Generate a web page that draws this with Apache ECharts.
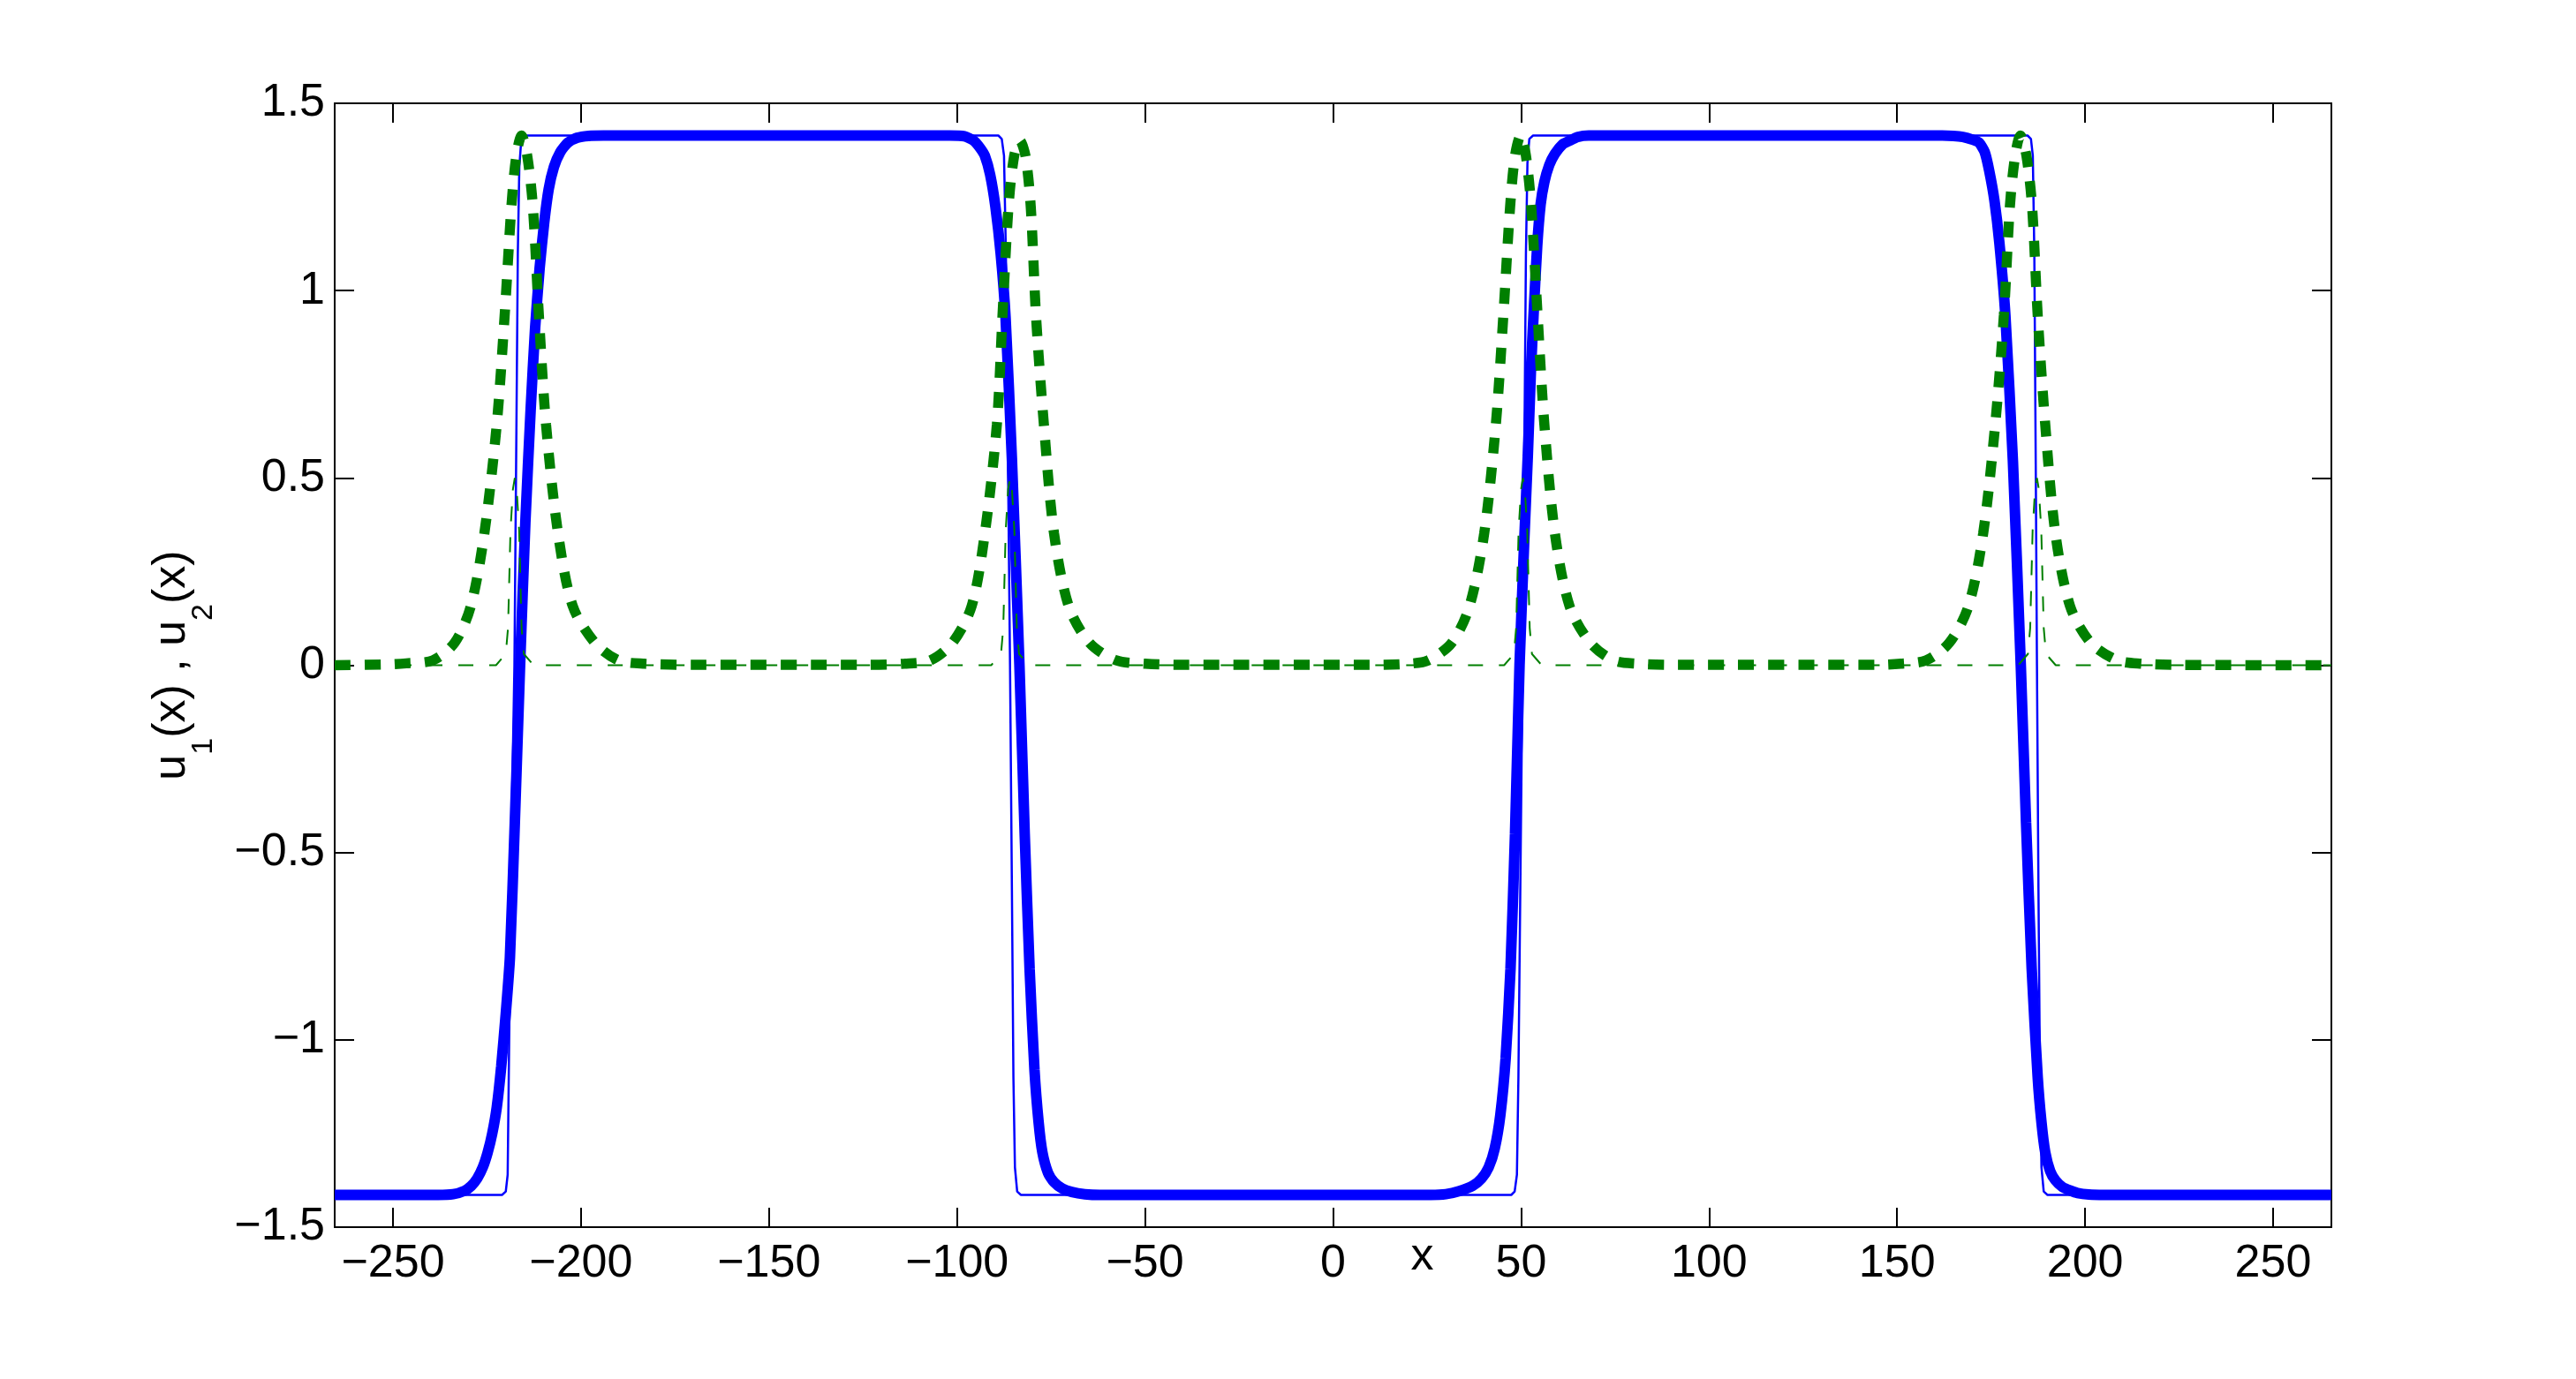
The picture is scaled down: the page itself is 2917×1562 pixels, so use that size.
<!DOCTYPE html>
<html>
<head>
<meta charset="utf-8">
<script src="https://cdn.jsdelivr.net/npm/echarts@6/dist/echarts.min.js"></script>
<style>
html,body{margin:0;padding:0;background:#fff;}
#chart{width:2917px;height:1562px;}
</style>
</head>
<body>
<div id="chart"></div>
<script>
// ---- data ----
const xTicks = [-250, -200, -150, -100, -50, 0, 50, 100, 150, 200, 250];
const yTicks = [-1.5, -1, -0.5, 0, 0.5, 1, 1.5];

// u1, thick blue curve
const thickBlueX = [-265.5, -238, -234, -231, -229.2, -227.6, -226.1, -224.8, -223.6, -222.4, -221.2, -220.0, -218.9, -217.6, -216.2, -214.8, -213.4, -212.2, -211.0, -209.8, -208.6, -207.2, -205.5, -203.5, -201, -198, -194,
  -102, -98, -95.5, -93.8, -92.6, -91.2, -89.8, -88.4, -87.1, -85.4, -83.4, -82.0, -80.7, -79.4, -78.3, -77.3, -75.8, -74.2, -72.0, -69.5, -66, -62,
  26, 30, 33.5, 37.1, 39.5, 41.4, 43.0, 44.5, 45.9, 47.2, 48.4, 49.6, 50.8, 51.8, 52.6, 53.3, 54.3, 55.2, 56.2, 57.5, 59.0, 61.0, 62.9, 65, 68,
  162, 165, 167.5, 170, 171.8, 173.3, 174.5, 175.9, 177.2, 178.8, 180.8, 182.9, 184.3, 185.8, 187.4, 188.4, 189.4, 190.7, 192.1, 194, 196.0, 198, 201, 205, 265.5];
const thickBlueY = [-1.414, -1.414, -1.412, -1.403, -1.39, -1.37, -1.34, -1.30, -1.25, -1.18, -1.07, -0.93, -0.78, -0.42, 0, 0.38, 0.68, 0.90, 1.06, 1.18, 1.27, 1.33, 1.37, 1.395, 1.408, 1.413, 1.414,
  1.414, 1.412, 1.40, 1.38, 1.36, 1.31, 1.225, 1.10, 0.93, 0.55, 0, -0.45, -0.81, -1.08, -1.22, -1.30, -1.355, -1.38, -1.397, -1.406, -1.412, -1.414,
  -1.414, -1.412, -1.404, -1.39, -1.37, -1.34, -1.29, -1.2, -1.05, -0.81, -0.45, 0, 0.32, 0.56, 0.78, 0.93, 1.12, 1.23, 1.29, 1.335, 1.365, 1.39, 1.40, 1.41, 1.414,
  1.414, 1.413, 1.41, 1.403, 1.395, 1.37, 1.32, 1.24, 1.128, 0.934, 0.546, 0, -0.42, -0.81, -1.10, -1.22, -1.30, -1.35, -1.375, -1.393, -1.402, -1.409, -1.413, -1.414, -1.414];

// u1, thin blue curve
const thinBlueX = [-265.5, -221, -220.0, -219.5, -219.1, -218.4, -217.7, -217.2, -216.8, -216.4, -215.9, -215,
  -89, -88.1, -87.5, -87.0, -86.4, -85.9, -85.4, -85.0, -84.6, -84.0, -83,
  47.4, 48.3, 48.9, 49.3, 49.9, 50.4, 50.9, 51.3, 51.7, 52.2, 53.2,
  184.7, 185.6, 186.1, 186.5, 186.9, 187.2, 187.6, 188.0, 188.4, 189.0, 190, 265.5];
const thinBlueY = [-1.414, -1.414, -1.405, -1.36, -1.0, -0.4, 0, 0.6, 1.1, 1.33, 1.40, 1.414,
  1.414, 1.405, 1.36, 1.1, 0.5, 0, -0.6, -1.1, -1.34, -1.405, -1.414,
  -1.414, -1.405, -1.36, -1.1, -0.5, 0, 0.6, 1.1, 1.34, 1.405, 1.414,
  1.414, 1.405, 1.36, 1.1, 0.5, 0, -0.6, -1.1, -1.34, -1.405, -1.414, -1.414];

// u2, thick green dotted curve
const thickGreenX = [-265.5, -252, -246.5, -239.4, -233.6, -229.3, -225.7, -222.4, -220.3, -218.5, -217.2, -215.8, -214.3, -212.8, -211.2, -209.3, -206.1, -202.2, -196.3, -190.0, -183, -170,
  -125, -114, -107.1, -101.2, -96.1, -92.6, -89.4, -87.9, -86.3, -84.8, -83.3, -81.8, -80.4, -79.0, -76.9, -74.2, -70.3, -64.8, -57.7, -50, -40,
  10, 20, 25.3, 31.6, 36.3, 40.2, 43.3, 45.3, 47.1, 48.4, 49.9, 51.3, 52.7, 54.4, 56.2, 59.0, 62.9, 68.4, 74.6, 81, 90,
  145, 151, 157.7, 163.9, 169.0, 172.9, 176.1, 178.4, 180.0, 181.4, 182.8, 184.4, 185.9, 187.4, 189.4, 192.1, 196.0, 201.5, 208.6, 215, 225, 265.5];
const thickGreenY = [0, 0.002, 0.005, 0.013, 0.06, 0.158, 0.352, 0.643, 0.934, 1.225, 1.36, 1.414, 1.36, 1.225, 0.934, 0.643, 0.352, 0.158, 0.06, 0.013, 0.004, 0.001,
  0.001, 0.004, 0.013, 0.06, 0.158, 0.352, 0.643, 0.934, 1.225, 1.36, 1.40, 1.36, 1.225, 0.934, 0.643, 0.352, 0.158, 0.06, 0.013, 0.004, 0.001,
  0.001, 0.004, 0.013, 0.06, 0.158, 0.352, 0.643, 0.934, 1.225, 1.36, 1.414, 1.36, 1.225, 0.934, 0.643, 0.352, 0.158, 0.06, 0.013, 0.004, 0.001,
  0.001, 0.004, 0.013, 0.06, 0.158, 0.352, 0.643, 0.934, 1.225, 1.36, 1.414, 1.36, 1.225, 0.934, 0.643, 0.352, 0.158, 0.06, 0.013, 0.004, 0.001, 0];

// u2, thin green dashed curve
const thinGreenX = [-265.5, -222.6, -220.0, -219.4, -218.75, -218.1, -217.6, -217.1, -216.45, -215.8, -215.2, -212.6,
  -90.9, -88.3, -87.7, -87.05, -86.4, -85.9, -85.4, -84.75, -84.1, -83.5, -80.9,
  45.5, 48.1, 48.7, 49.35, 50.0, 50.5, 51.0, 51.65, 52.3, 52.9, 55.5,
  182.2, 184.8, 185.4, 186.05, 186.7, 187.2, 187.7, 188.35, 189.0, 189.6, 192.2, 265.5];
const thinGreenY = [0, 0, 0.03, 0.1, 0.36, 0.47, 0.5, 0.47, 0.36, 0.1, 0.03, 0,
  0, 0.03, 0.1, 0.36, 0.47, 0.5, 0.47, 0.36, 0.1, 0.03, 0,
  0, 0.03, 0.1, 0.36, 0.47, 0.5, 0.47, 0.36, 0.1, 0.03, 0,
  0, 0.03, 0.1, 0.36, 0.47, 0.5, 0.47, 0.36, 0.1, 0.03, 0, 0];

const xLabelText = 'x';
const yLabelText = '{m|u}{s|1}{m|(x) , u}{s|2}{m|(x)}';

// ---- chart ----
function zip(xs, ys) { return xs.map((x, i) => [x, ys[i]]); }
const FONT = "'Liberation Sans', Arial, Helvetica, sans-serif";
const fmt = v => String(v).replace('-', '\u2212');
const BLUE = '#0000ff', GREEN = '#007f00';

const axisLineStyle = { show: true, onZero: false, lineStyle: { color: '#000', width: 2 } };
const tickStyle = { show: true, inside: true, length: 22, lineStyle: { color: '#000', width: 2 } };

const chart = echarts.init(document.getElementById('chart'), null, { renderer: 'canvas' });
chart.setOption({
  animation: false,
  backgroundColor: '#fff',
  grid: { left: 379, top: 117, width: 2261, height: 1273, containLabel: false },
  xAxis: [
    {
      type: 'value', position: 'bottom', min: -265.5, max: 265.5,
      axisLine: axisLineStyle,
      axisTick: Object.assign({}, tickStyle, { customValues: xTicks }),
      axisLabel: { customValues: xTicks, formatter: fmt, fontSize: 52, fontFamily: FONT, color: '#000', margin: 16 },
      splitLine: { show: false },
      name: xLabelText, nameLocation: 'middle', nameGap: 8, nameMoveOverlap: false,
      nameTextStyle: { fontSize: 52, fontFamily: FONT, color: '#000', padding: [0, 0, 0, 202] }
    },
    {
      type: 'value', position: 'top', min: -265.5, max: 265.5,
      axisLine: axisLineStyle,
      axisTick: Object.assign({}, tickStyle, { customValues: xTicks }),
      axisLabel: { show: false }, splitLine: { show: false }
    }
  ],
  yAxis: [
    {
      type: 'value', position: 'left', min: -1.5, max: 1.5, interval: 0.5,
      axisLine: axisLineStyle,
      axisTick: tickStyle,
      axisLabel: { formatter: fmt, fontSize: 52, fontFamily: FONT, color: '#000', margin: 11 },
      splitLine: { show: false },
      name: yLabelText, nameLocation: 'middle', nameRotate: 90, nameGap: 131, nameMoveOverlap: false,
      nameTextStyle: {
        fontFamily: FONT, color: '#000', fontSize: 52,
        rich: {
          m: { fontSize: 52, fontFamily: FONT, color: '#000', lineHeight: 52, verticalAlign: 'top' },
          s: { fontSize: 34, fontFamily: FONT, color: '#000', padding: [45, 0, 0, 0], verticalAlign: 'top' }
        }
      }
    },
    {
      type: 'value', position: 'right', min: -1.5, max: 1.5, interval: 0.5,
      axisLine: axisLineStyle,
      axisTick: tickStyle,
      axisLabel: { show: false }, splitLine: { show: false }
    }
  ],
  series: [
    { type: 'line', name: 'u1 thick', data: zip(thickBlueX, thickBlueY), showSymbol: false, symbol: 'none', smooth: 0.2,
      lineStyle: { color: BLUE, width: 12 } },
    { type: 'line', name: 'u1 thin', data: zip(thinBlueX, thinBlueY), showSymbol: false, symbol: 'none',
      lineStyle: { color: BLUE, width: 2.5 } },
    { type: 'line', name: 'u2 thick', data: zip(thickGreenX, thickGreenY), showSymbol: false, symbol: 'none', smooth: 0.3,
      lineStyle: { color: GREEN, width: 11.5, type: [18, 16], cap: 'butt' } },
    { type: 'line', name: 'u2 thin', data: zip(thinGreenX, thinGreenY), showSymbol: false, symbol: 'none',
      lineStyle: { color: GREEN, width: 2, type: [17, 18], cap: 'butt' } }
  ]
});
</script>
</body>
</html>
